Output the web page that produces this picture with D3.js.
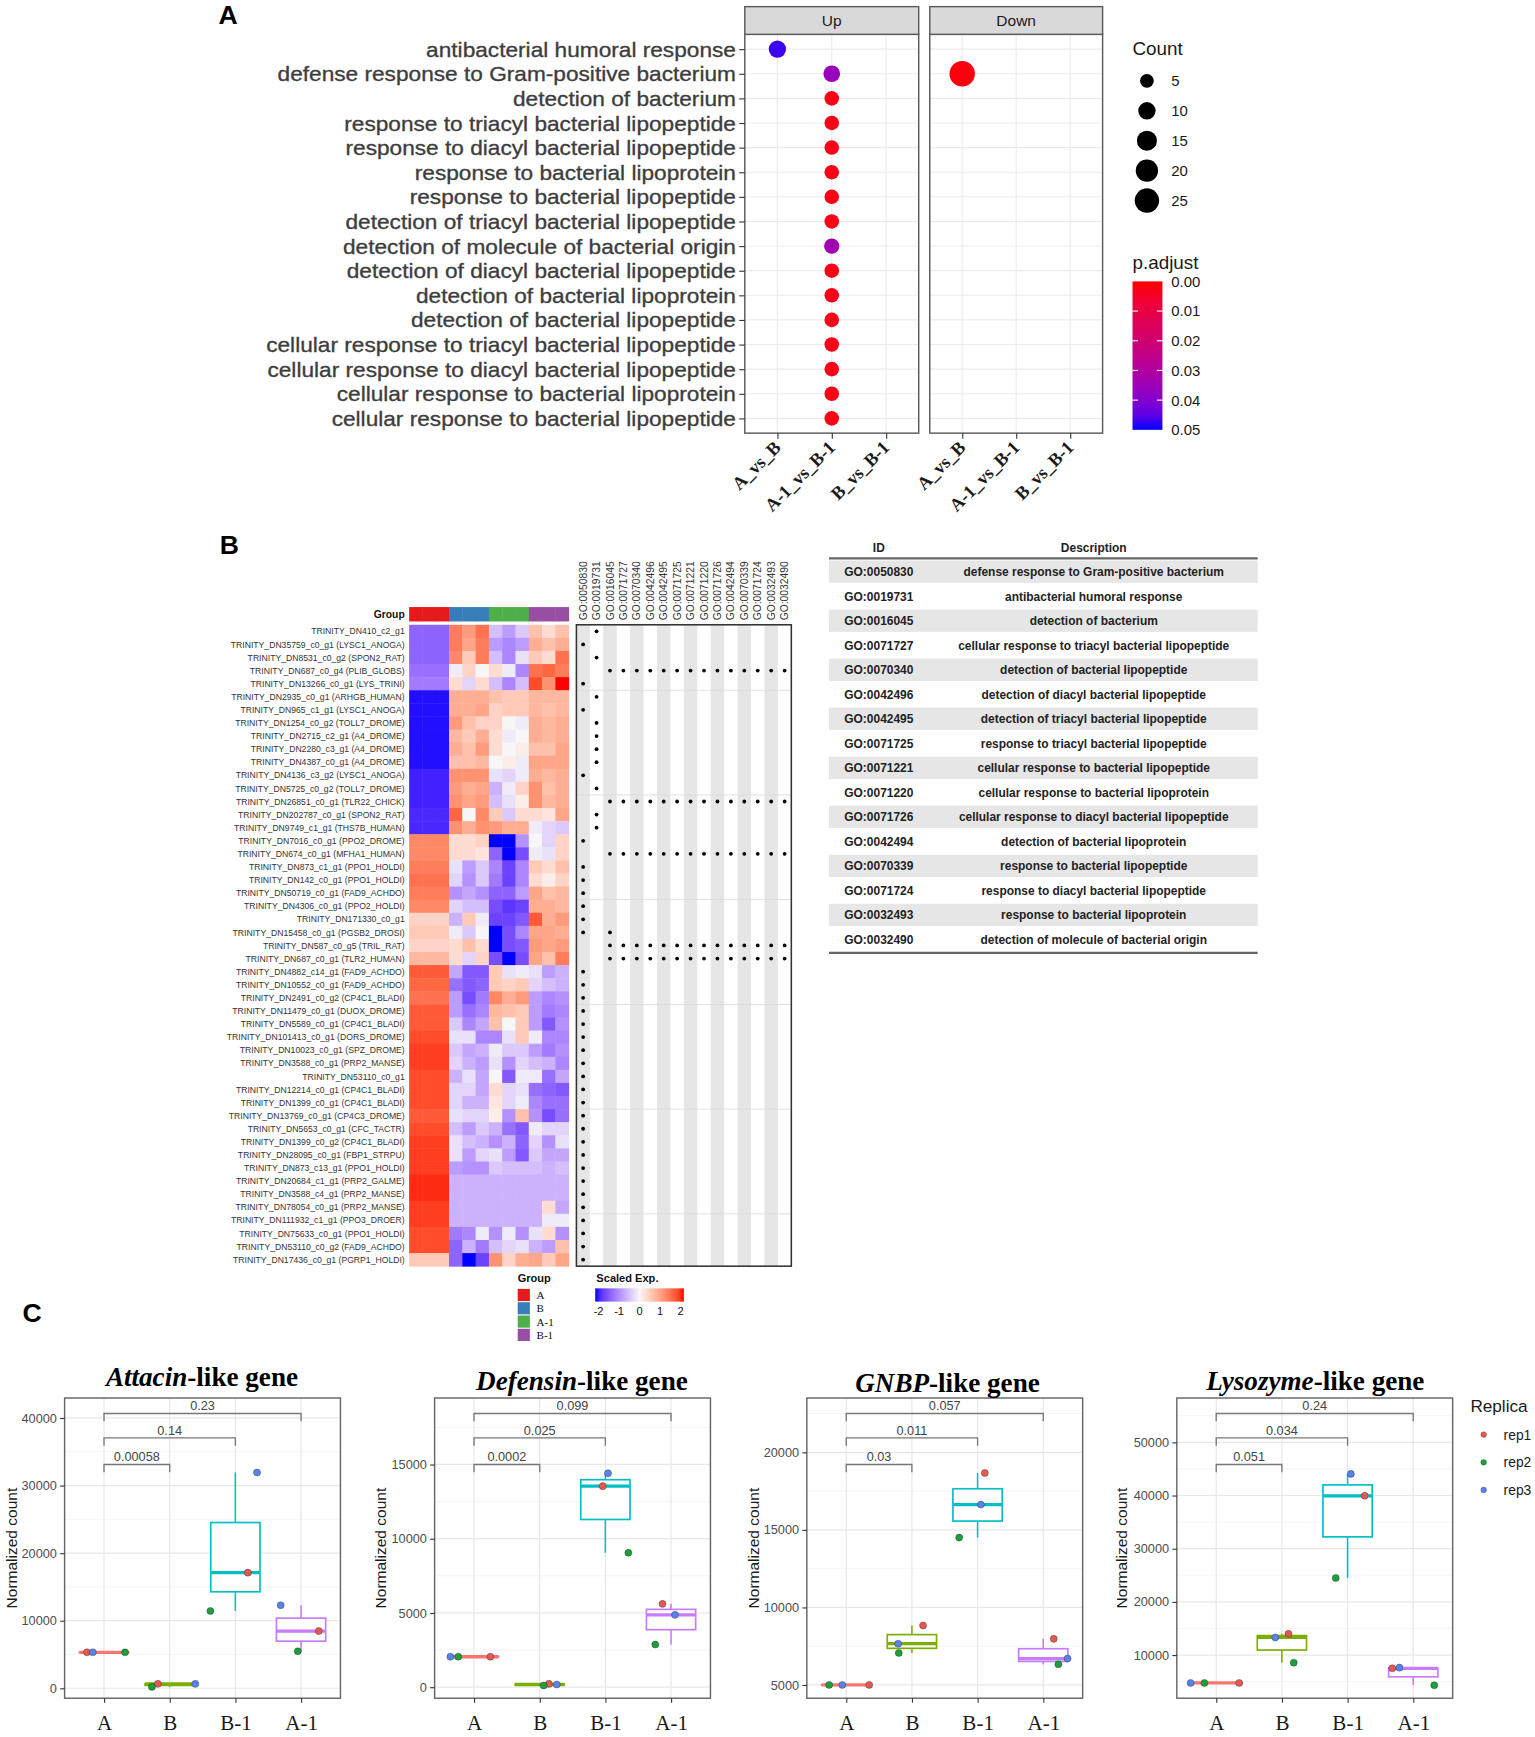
<!DOCTYPE html>
<html><head><meta charset="utf-8">
<script src="https://cdn.jsdelivr.net/npm/d3@7"></script>
<style>body{margin:0;background:#fff}svg{display:block}</style>
</head><body><svg id="fig"></svg>
<script>
// ================= DATA =================
// ---- Panel A: GO enrichment dot plot ----
const goTerms = [
 "antibacterial humoral response",
 "defense response to Gram-positive bacterium",
 "detection of bacterium",
 "response to triacyl bacterial lipopeptide",
 "response to diacyl bacterial lipopeptide",
 "response to bacterial lipoprotein",
 "response to bacterial lipopeptide",
 "detection of triacyl bacterial lipopeptide",
 "detection of molecule of bacterial origin",
 "detection of diacyl bacterial lipopeptide",
 "detection of bacterial lipoprotein",
 "detection of bacterial lipopeptide",
 "cellular response to triacyl bacterial lipopeptide",
 "cellular response to diacyl bacterial lipopeptide",
 "cellular response to bacterial lipoprotein",
 "cellular response to bacterial lipopeptide"];
const comparisons = ["A_vs_B","A-1_vs_B-1","B_vs_B-1"];
const facets = ["Up","Down"];
const enrichTerm = goTerms.concat(["defense response to Gram-positive bacterium"]);
const enrichFacet = ["Up","Up","Up","Up","Up","Up","Up","Up","Up","Up","Up","Up","Up","Up","Up","Up","Down"];
const enrichComp = ["A_vs_B","A-1_vs_B-1","A-1_vs_B-1","A-1_vs_B-1","A-1_vs_B-1","A-1_vs_B-1","A-1_vs_B-1","A-1_vs_B-1",
  "A-1_vs_B-1","A-1_vs_B-1","A-1_vs_B-1","A-1_vs_B-1","A-1_vs_B-1","A-1_vs_B-1","A-1_vs_B-1","A-1_vs_B-1","A_vs_B"];
const enrichCount = [10,9,6,6,6,6,6,6,7,6,6,6,6,6,6,6,28];
const enrichPadj = [0.048,0.036,0.002,0.002,0.002,0.002,0.002,0.002,0.034,0.002,0.002,0.002,0.002,0.002,0.002,0.002,0.001];
const countBreaks = [5,10,15,20,25];
const padjBreaks = [0,0.01,0.02,0.03,0.04,0.05];

// ---- Panel B: heatmap ----
const geneLabels = [
 "TRINITY_DN410_c2_g1","TRINITY_DN35759_c0_g1 (LYSC1_ANOGA)","TRINITY_DN8531_c0_g2 (SPON2_RAT)",
 "TRINITY_DN687_c0_g4 (PLIB_GLOBS)","TRINITY_DN13266_c0_g1 (LYS_TRINI)","TRINITY_DN2935_c0_g1 (ARHGB_HUMAN)",
 "TRINITY_DN965_c1_g1 (LYSC1_ANOGA)","TRINITY_DN1254_c0_g2 (TOLL7_DROME)","TRINITY_DN2715_c2_g1 (A4_DROME)",
 "TRINITY_DN2280_c3_g1 (A4_DROME)","TRINITY_DN4387_c0_g1 (A4_DROME)","TRINITY_DN4136_c3_g2 (LYSC1_ANOGA)",
 "TRINITY_DN5725_c0_g2 (TOLL7_DROME)","TRINITY_DN26851_c0_g1 (TLR22_CHICK)","TRINITY_DN202787_c0_g1 (SPON2_RAT)",
 "TRINITY_DN9749_c1_g1 (THS7B_HUMAN)","TRINITY_DN7016_c0_g1 (PPO2_DROME)","TRINITY_DN674_c0_g1 (MFHA1_HUMAN)",
 "TRINITY_DN873_c1_g1 (PPO1_HOLDI)","TRINITY_DN142_c0_g1 (PPO1_HOLDI)","TRINITY_DN50719_c0_g1 (FAD9_ACHDO)",
 "TRINITY_DN4306_c0_g1 (PPO2_HOLDI)","TRINITY_DN171330_c0_g1","TRINITY_DN15458_c0_g1 (PGSB2_DROSI)",
 "TRINITY_DN587_c0_g5 (TRIL_RAT)","TRINITY_DN687_c0_g1 (TLR2_HUMAN)","TRINITY_DN4882_c14_g1 (FAD9_ACHDO)",
 "TRINITY_DN10552_c0_g1 (FAD9_ACHDO)","TRINITY_DN2491_c0_g2 (CP4C1_BLADI)","TRINITY_DN11479_c0_g1 (DUOX_DROME)",
 "TRINITY_DN5589_c0_g1 (CP4C1_BLADI)","TRINITY_DN101413_c0_g1 (DORS_DROME)","TRINITY_DN10023_c0_g1 (SPZ_DROME)",
 "TRINITY_DN3588_c0_g1 (PRP2_MANSE)","TRINITY_DN53110_c0_g1","TRINITY_DN12214_c0_g1 (CP4C1_BLADI)",
 "TRINITY_DN1399_c0_g1 (CP4C1_BLADI)","TRINITY_DN13769_c0_g1 (CP4C3_DROME)","TRINITY_DN5653_c0_g1 (CFC_TACTR)",
 "TRINITY_DN1399_c0_g2 (CP4C1_BLADI)","TRINITY_DN28095_c0_g1 (FBP1_STRPU)","TRINITY_DN873_c13_g1 (PPO1_HOLDI)",
 "TRINITY_DN20684_c1_g1 (PRP2_GALME)","TRINITY_DN3588_c4_g1 (PRP2_MANSE)","TRINITY_DN78054_c0_g1 (PRP2_MANSE)",
 "TRINITY_DN111932_c1_g1 (PPO3_DROER)","TRINITY_DN75633_c0_g1 (PPO1_HOLDI)","TRINITY_DN53110_c0_g2 (FAD9_ACHDO)",
 "TRINITY_DN17436_c0_g1 (PGRP1_HOLDI)"];
const groupNames = ["A","B","A-1","B-1"];
const sampleGroups = ["A","A","A","B","B","B","A-1","A-1","A-1","B-1","B-1","B-1"];
const heatValues = [
 [-1.3,-1.3,-1.3, 1.3,1.0,1.4, -0.5,-0.8,-0.4, 0.6,0.3,0.6],
 [-1.3,-1.3,-1.3, 1.3,0.9,1.3, -0.8,-1.0,-0.8, 0.8,0.6,0.8],
 [-1.3,-1.3,-1.3, 1.2,0.5,1.3, -0.5,-1.0,-0.2, 0.5,0.3,1.4],
 [-1.2,-1.2,-1.2, -0.1,0.4,0.0, 0.3,-0.1,-1.0, 1.4,1.5,1.3],
 [-1.1,-1.1,-1.1, 0.3,-0.3,0.3, -0.5,-1.0,-0.5, 1.7,1.1,2.0],
 [-1.95,-1.95,-1.95, 0.8,0.8,0.8, 0.6,0.5,0.5, 0.7,0.7,0.7],
 [-1.95,-1.95,-1.95, 0.8,0.8,0.9, 0.4,0.5,0.5, 0.7,0.6,0.7],
 [-1.95,-1.95,-1.95, 1.0,0.6,0.4, 0.4,0.0,-0.1, 0.8,0.7,0.8],
 [-1.95,-1.95,-1.95, 0.7,0.5,0.8, 0.3,-0.1,0.0, 0.8,0.7,0.8],
 [-1.95,-1.95,-1.95, 0.8,0.6,1.0, 0.3,0.0,0.1, 0.6,0.6,0.9],
 [-1.95,-1.95,-1.95, 0.6,0.6,0.7, 0.0,0.1,-0.1, 0.9,0.9,0.9],
 [-1.85,-1.85,-1.85, 1.1,1.1,1.1, -0.2,-0.3,-0.1, 0.8,0.7,0.8],
 [-1.85,-1.85,-1.85, 1.0,0.8,0.9, -0.6,-0.1,0.4, 1.1,0.6,0.8],
 [-1.85,-1.85,-1.85, 1.1,0.9,1.0, -0.5,-0.2,0.1, 1.1,0.7,0.8],
 [-1.8,-1.8,-1.8, 1.5,0.0,1.2, 0.5,-0.4,0.3, 0.3,0.2,0.9],
 [-1.8,-1.8,-1.8, 1.1,0.8,1.1, 1.0,0.8,0.8, -0.1,-0.3,-0.4],
 [1.2,1.2,1.2, 0.3,0.3,0.4, -2.0,-2.0,-0.9, 0.0,-0.3,0.4],
 [1.2,1.2,1.2, 0.3,0.3,0.2, -1.3,-2.0,-1.5, -0.1,-0.2,0.4],
 [1.3,1.3,1.3, -0.2,-0.8,-0.4, -1.0,-1.6,-1.0, 0.5,0.3,0.6],
 [1.4,1.4,1.4, -0.3,-0.9,-0.4, -1.1,-1.6,-1.0, 0.3,0.1,0.4],
 [1.3,1.3,1.3, -0.9,-0.7,-0.9, -1.3,-1.3,-0.8, 0.9,0.6,0.7],
 [1.2,1.2,1.2, -0.3,-0.5,-0.5, -1.5,-1.7,-1.6, 0.8,0.8,0.7],
 [0.4,0.4,0.4, -0.6,0.5,-0.1, -1.6,-1.6,-1.4, 1.6,0.8,1.0],
 [0.5,0.5,0.5, -0.1,-0.4,0.0, -2.0,-1.5,-1.0, 0.9,0.9,0.8],
 [0.4,0.4,0.4, 0.3,0.6,0.3, -2.0,-1.5,-1.4, 1.0,0.9,1.0],
 [0.7,0.7,0.7, 0.3,-0.3,0.4, -1.5,-2.0,-1.5, 0.9,0.6,1.3],
 [1.6,1.6,1.6, -0.7,-1.4,-1.4, 0.5,-0.2,-0.1, -0.2,-0.8,-0.6],
 [1.5,1.5,1.5, -1.2,-1.4,-1.3, 0.5,0.4,0.5, -0.3,-0.5,-0.6],
 [1.4,1.4,1.4, -0.8,-1.5,-1.1, 1.2,0.8,1.0, -0.8,-1.0,-0.9],
 [1.6,1.6,1.6, -0.8,-1.2,-1.0, 0.7,0.6,0.5, -0.8,-1.1,-1.0],
 [1.6,1.6,1.6, -0.4,-1.0,-0.7, 0.6,0.0,0.5, -0.8,-1.4,-0.9],
 [1.7,1.7,1.7, -0.2,-0.2,-1.0, -1.0,-0.2,0.5, -0.1,-1.0,-1.0],
 [1.8,1.8,1.8, -0.4,-0.7,-0.6, -0.1,-0.4,-0.4, -0.8,-1.1,-0.9],
 [1.8,1.8,1.8, -0.3,-0.6,-0.8, -0.2,-0.9,-0.3, -0.5,-0.6,-1.0],
 [1.7,1.7,1.7, -0.6,-0.2,-0.7, 0.0,-1.4,-0.1, -0.1,-1.2,-0.7],
 [1.7,1.7,1.7, -0.3,-0.3,-0.7, 0.3,-0.3,-0.2, -1.2,-1.3,-1.4],
 [1.7,1.7,1.7, -0.3,-0.6,-0.6, 0.2,-0.3,-0.1, -1.0,-1.2,-1.2],
 [1.6,1.6,1.6, -0.2,-0.3,-0.3, 0.1,-0.9,0.6, -0.9,-1.5,-1.2],
 [1.7,1.7,1.7, -0.5,-0.8,-0.4, -0.6,-1.2,-1.4, -0.1,-0.3,-0.3],
 [1.8,1.8,1.8, -0.2,-0.5,-0.6, -0.9,-0.6,-1.3, -0.3,-0.9,-0.2],
 [1.8,1.8,1.8, -0.2,-0.8,-0.3, -0.2,-0.8,-1.4, -0.4,-0.7,-0.7],
 [1.8,1.8,1.8, -0.8,-0.9,-0.9, -0.4,-0.5,-0.5, -0.5,-0.6,-0.5],
 [1.9,1.9,1.9, -0.6,-0.6,-0.6, -0.6,-0.6,-0.6, -0.6,-0.6,-0.6],
 [1.9,1.9,1.9, -0.6,-0.6,-0.6, -0.6,-0.6,-0.6, -0.6,-0.6,-0.6],
 [1.8,1.8,1.8, -0.6,-0.6,-0.6, -0.6,-0.6,-0.6, -0.6,0.3,-0.7],
 [1.8,1.8,1.8, -0.6,-0.6,-0.6, -0.6,-0.6,-0.6, -0.6,-0.1,-0.1],
 [1.7,1.7,1.7, -1.1,-1.0,-0.1, -0.9,-0.1,-0.9, -0.2,0.3,-0.9],
 [1.7,1.7,1.7, -1.3,-0.6,-1.1, -0.5,-0.3,-0.2, -0.6,-0.8,0.6],
 [0.5,0.5,0.5, -1.3,-2.0,-1.6, 1.1,0.4,0.8, 0.9,0.5,0.9]];
const goIds = ["GO:0050830","GO:0019731","GO:0016045","GO:0071727","GO:0070340","GO:0042496","GO:0042495","GO:0071725",
  "GO:0071221","GO:0071220","GO:0071726","GO:0042494","GO:0070339","GO:0071724","GO:0032493","GO:0032490"];
const goDescriptions = ["defense response to Gram-positive bacterium","antibacterial humoral response","detection of bacterium",
  "cellular response to triacyl bacterial lipopeptide","detection of bacterial lipopeptide","detection of diacyl bacterial lipopeptide",
  "detection of triacyl bacterial lipopeptide","response to triacyl bacterial lipopeptide","cellular response to bacterial lipopeptide",
  "cellular response to bacterial lipoprotein","cellular response to diacyl bacterial lipopeptide","detection of bacterial lipoprotein",
  "response to bacterial lipopeptide","response to diacyl bacterial lipopeptide","response to bacterial lipoprotein",
  "detection of molecule of bacterial origin"];
const ALLTLR = [2,3,4,5,6,7,8,9,10,11,12,13,14,15];
const geneGoHits = [[1],[0],[1],ALLTLR,[0],[1],[0],[1],[1],[1],[1],[0],[1],ALLTLR,[1],[1],
  [0],ALLTLR,[0],[0],[0],[0],[0],[0,2],ALLTLR,ALLTLR,
  [0],[0],[0],[0],[0],[0],[0],[0],[0],[0],[0],[0],[0],[0],[0],[0],[0],[0],[0],[0],[0],[0],[0]];
const heatTicks = [-2,-1,0,1,2];

// ---- Panel C: boxplots ----
const geneNames = ["Attacin","Defensin","GNBP","Lysozyme"];
const groupOrder = ["A","B","B-1","A-1"];
const replicas = ["rep1","rep2","rep3"];
// values per group (groupOrder) per replica (rep1, rep2, rep3)
const attacinCounts  = [[5320,5320,5320],[650,200,650],[17110,11440,31940],[8460,5470,12290]];
const defensinCounts = [[2050,2050,2050],[220,110,180],[13540,9050,14410],[5610,2870,4870]];
const gnbpCounts     = [[5000,5000,5000],[8830,7060,7660],[18670,14500,16630],[7970,6330,6700]];
const lysozymeCounts = [[4750,4750,4750],[14000,8560,13310],[39940,24500,44060],[7500,4310,7625]];
// horizontal jitter (fraction of category step)
const attacinJitter  = [[-0.26,0.32,-0.17],[-0.18,-0.27,0.39],[0.19,-0.38,0.33],[0.27,-0.05,-0.31]];
const defensinJitter = [[0.25,-0.24,-0.36],[0.14,0.06,0.26],[-0.04,0.35,0.04],[-0.13,-0.24,0.06]];
const gnbpJitter     = [[0.35,-0.26,-0.06],[0.17,-0.20,-0.21],[0.11,-0.28,0.05],[0.16,0.23,0.37]];
const lysozymeJitter = [[0.35,-0.18,-0.39],[0.10,0.18,-0.10],[0.26,-0.18,0.05],[-0.32,0.32,-0.21]];
const attacinP  = ["0.00058","0.14","0.23"];
const defensinP = ["0.0002","0.025","0.099"];
const gnbpP     = ["0.03","0.011","0.057"];
const lysozymeP = ["0.051","0.034","0.24"];
const pairs = [["A","B"],["A","B-1"],["A","A-1"]];
const attacinTicks  = [0,10000,20000,30000,40000];
const defensinTicks = [0,5000,10000,15000];
const gnbpTicks     = [5000,10000,15000,20000];
const lysozymeTicks = [10000,20000,30000,40000,50000];
const attacinLimits  = [-1475,42950];
const defensinLimits = [-746,19477];
const gnbpLimits     = [4143,23500];
const lysozymeLimits = [1875,58333];

// ================= DRAWING =================
const W = 1385, H = 1568;
const SANS = "'Liberation Sans', Arial, Helvetica, sans-serif";
const SERIF = "'Liberation Serif', 'Times New Roman', serif";
const svg = d3.select("#fig").attr("width",1535).attr("height",1737).attr("viewBox",`0 0 ${W} ${H}`)
  .style("font-family",SANS);
svg.append("rect").attr("width",W).attr("height",H).attr("fill","#fff");

// panel letters
[["A",197,22],["B",198,500],["C",20,1193]].forEach(([t,x,y])=>
  svg.append("text").attr("x",x).attr("y",y).text(t).attr("font-size",24).attr("font-weight","bold").attr("fill","#000"));

// ---------- Panel A ----------
(function(){
  const pTop = 31, pBot = 391, stripTop = 6;
  const panelX = {Up:[672,829], Down:[839,995]};
  const y = d3.scalePoint().domain(goTerms).range([pTop,pBot]).padding(0.6);
  const padjColor = d3.scaleLinear().domain([0,0.05]).range(["#ff0000","#0000ff"]).interpolate(d3.interpolateLab).clamp(true);
  const rScale = c => 2.32 + 1.737*Math.sqrt(c);
  const g = svg.append("g");
  facets.forEach(f=>{
    const [x0,x1] = panelX[f];
    const x = d3.scalePoint().domain(comparisons).range([x0,x1]).padding(0.6);
    g.append("g").selectAll("line.h").data(goTerms).join("line")
      .attr("x1",x0).attr("x2",x1).attr("y1",d=>y(d)).attr("y2",d=>y(d)).attr("stroke","#ebebeb").attr("stroke-width",1);
    g.append("g").selectAll("line.v").data(comparisons).join("line")
      .attr("x1",d=>x(d)).attr("x2",d=>x(d)).attr("y1",pTop).attr("y2",pBot).attr("stroke","#ebebeb").attr("stroke-width",1);
    const idx = d3.range(enrichTerm.length).filter(i=>enrichFacet[i]===f);
    g.append("g").selectAll("circle").data(idx).join("circle")
      .attr("cx",i=>x(enrichComp[i])).attr("cy",i=>y(enrichTerm[i])).attr("r",i=>rScale(enrichCount[i]))
      .attr("fill",i=>padjColor(enrichPadj[i]));
    g.append("rect").attr("x",x0).attr("y",pTop).attr("width",x1-x0).attr("height",pBot-pTop)
      .attr("fill","none").attr("stroke","#5a5a5a").attr("stroke-width",1.3);
    g.append("rect").attr("x",x0).attr("y",stripTop).attr("width",x1-x0).attr("height",pTop-stripTop)
      .attr("fill","#d9d9d9").attr("stroke","#5a5a5a").attr("stroke-width",1.3);
    g.append("text").attr("x",(x0+x1)/2).attr("y",(stripTop+pTop)/2+5).attr("text-anchor","middle")
      .attr("font-size",14).attr("fill","#1a1a1a").text(f);
    const ax = g.append("g").attr("transform",`translate(0,${pBot})`).call(d3.axisBottom(x).tickSize(5).tickFormat(""));
    ax.select(".domain").remove();
    ax.selectAll("line").attr("stroke","#333");
    g.append("g").selectAll("text").data(comparisons).join("text")
      .attr("transform",d=>`translate(${x(d)+4},${pBot+14}) rotate(-45)`)
      .attr("text-anchor","end").attr("font-family",SERIF).attr("font-weight","bold").attr("font-size",16.5)
      .attr("fill","#1a1a1a").text(d=>d);
  });
  const ay = g.append("g").attr("transform",`translate(672,0)`).call(d3.axisLeft(y).tickSize(5).tickFormat(""));
  ay.select(".domain").remove(); ay.selectAll("line").attr("stroke","#333");
  const lab = g.append("g").attr("transform","translate(664,0)");
  const ts = lab.selectAll("text").data(goTerms).join("text").attr("x",0).attr("y",d=>y(d)).attr("dy","0.36em")
    .attr("text-anchor","end").attr("font-size",19).attr("fill","#3d3d3d")
    .attr("stroke","#3d3d3d").attr("stroke-width",0.3).text(d=>d);
  let ref = 1; ts.each(function(d){ if(d==="cellular response to triacyl bacterial lipopeptide") ref = this.getComputedTextLength(); });
  lab.attr("transform",`translate(664,0) scale(${424/ref},1)`);
  // Count legend
  g.append("text").attr("x",1022).attr("y",50).attr("font-size",17).attr("fill","#1a1a1a").text("Count");
  const ly = d3.scalePoint().domain(countBreaks).range([73,181]);
  g.append("g").selectAll("circle").data(countBreaks).join("circle")
    .attr("cx",1035).attr("cy",d=>ly(d)).attr("r",d=>rScale(d)).attr("fill","#000");
  g.append("g").selectAll("text").data(countBreaks).join("text")
    .attr("x",1057).attr("y",d=>ly(d)).attr("dy","0.36em").attr("font-size",13.5).attr("fill","#1a1a1a").text(d=>d);
  // p.adjust legend
  g.append("text").attr("x",1022).attr("y",243).attr("font-size",17).attr("fill","#1a1a1a").text("p.adjust");
  const defs = svg.append("defs");
  const grad = defs.append("linearGradient").attr("id","padjGrad").attr("x1",0).attr("x2",0).attr("y1",0).attr("y2",1);
  d3.range(0,1.001,0.1).forEach(t=>grad.append("stop").attr("offset",t).attr("stop-color",padjColor(t*0.05)));
  const cbTop = 254, cbBot = 388;
  g.append("rect").attr("x",1022).attr("y",cbTop).attr("width",27).attr("height",cbBot-cbTop).attr("fill","url(#padjGrad)");
  const cy = d3.scaleLinear().domain([0,0.05]).range([cbTop,cbBot]);
  g.append("g").selectAll("line").data(padjBreaks.slice(1,-1)).join("line")
    .attr("x1",1022).attr("x2",1027).attr("y1",d=>cy(d)).attr("y2",d=>cy(d)).attr("stroke","#fff").attr("stroke-width",1);
  g.append("g").selectAll("line.r").data(padjBreaks.slice(1,-1)).join("line")
    .attr("x1",1044).attr("x2",1049).attr("y1",d=>cy(d)).attr("y2",d=>cy(d)).attr("stroke","#fff").attr("stroke-width",1);
  g.append("g").selectAll("text").data(padjBreaks).join("text")
    .attr("x",1057).attr("y",d=>cy(d)).attr("dy","0.36em").attr("font-size",13.5).attr("fill","#1a1a1a").text(d=>d.toFixed(2));
})();

// ---------- Panel B ----------
(function(){
  const hx0 = 369, hx1 = 513, rTop = 564, rBot = 1143;
  const g = svg.append("g");
  const xs = d3.scaleBand().domain(d3.range(sampleGroups.length)).range([hx0,hx1]);
  const ys = d3.scaleBand().domain(d3.range(geneLabels.length)).range([rTop,rBot]);
  const grpColor = d3.scaleOrdinal().domain(groupNames).range(["#e41a1c","#377eb8","#4daf4a","#984ea3"]);
  const heatColor = d3.scaleLinear().domain([-2,0,2]).range(["#0000ff","#f7f7f7","#ff0000"]).interpolate(d3.interpolateLab).clamp(true);
  g.append("g").selectAll("rect").data(sampleGroups).join("rect")
    .attr("x",(d,i)=>xs(i)).attr("y",548).attr("width",xs.bandwidth()+0.4).attr("height",13).attr("fill",d=>grpColor(d));
  g.append("text").attr("x",365).attr("y",558).attr("text-anchor","end").attr("font-size",9.3).attr("font-weight","bold")
    .attr("fill","#111").text("Group");
  const cells = [];
  heatValues.forEach((row,r)=>row.forEach((v,c)=>cells.push({r,c,v})));
  g.append("g").selectAll("rect").data(cells).join("rect")
    .attr("x",d=>xs(d.c)).attr("y",d=>ys(d.r)).attr("width",xs.bandwidth()+0.4).attr("height",ys.bandwidth()+0.4)
    .attr("fill",d=>heatColor(d.v));
  g.append("g").selectAll("text").data(geneLabels).join("text")
    .attr("x",365).attr("y",(d,i)=>ys(i)+ys.bandwidth()/2).attr("dy","0.36em").attr("text-anchor","end")
    .attr("font-size",7.8).attr("fill","#333").text(d=>d);
  const gx0 = 520, gx1 = 714;
  const gs = d3.scaleBand().domain(d3.range(goIds.length)).range([gx0,gx1]);
  g.append("g").selectAll("rect").data(goIds.filter((d,i)=>i%2===0)).join("rect")
    .attr("x",d=>gs(goIds.indexOf(d))).attr("y",rTop).attr("width",gs.bandwidth()).attr("height",rBot-rTop).attr("fill","#e6e6e6");
  g.append("g").selectAll("line").data([5,13,21,29,37,45]).join("line")
    .attr("x1",gx0).attr("x2",gx1).attr("y1",d=>ys(d)).attr("y2",d=>ys(d)).attr("stroke","#d8d8d8").attr("stroke-width",0.7);
  const hits = [];
  geneGoHits.forEach((arr,r)=>arr.forEach(c=>hits.push({r,c})));
  g.append("g").selectAll("circle").data(hits).join("circle")
    .attr("cx",d=>gs(d.c)+gs.bandwidth()/2).attr("cy",d=>ys(d.r)+ys.bandwidth()/2).attr("r",1.7).attr("fill","#000");
  g.append("rect").attr("x",gx0).attr("y",rTop).attr("width",gx1-gx0).attr("height",rBot-rTop)
    .attr("fill","none").attr("stroke","#333").attr("stroke-width",1.4);
  g.append("g").selectAll("text").data(goIds).join("text")
    .attr("transform",(d,i)=>`translate(${gs(i)+gs.bandwidth()/2},560) rotate(-90)`).attr("dy","0.35em")
    .attr("font-size",9.3).attr("fill","#333").text(d=>d);
  g.append("text").attr("x",467).attr("y",1157).attr("font-size",10).attr("font-weight","bold").attr("fill","#111").text("Group");
  const lg = d3.scaleBand().domain(groupNames).range([1163,1211]);
  g.append("g").selectAll("rect").data(groupNames).join("rect")
    .attr("x",467).attr("y",d=>lg(d)+0.5).attr("width",11).attr("height",lg.bandwidth()-1).attr("fill",d=>grpColor(d));
  g.append("g").selectAll("text").data(groupNames).join("text")
    .attr("x",484).attr("y",d=>lg(d)+lg.bandwidth()/2).attr("dy","0.36em").attr("font-family",SERIF)
    .attr("font-size",10).attr("fill","#111").text(d=>d);
  g.append("text").attr("x",538).attr("y",1157).attr("font-size",10).attr("font-weight","bold").attr("fill","#111").text("Scaled Exp.");
  const defs = svg.append("defs");
  const hg = defs.append("linearGradient").attr("id","heatGrad");
  d3.range(0,1.001,0.05).forEach(t=>hg.append("stop").attr("offset",t).attr("stop-color",heatColor(-2+4*t)));
  const hxs = d3.scaleLinear().domain([-2,2]).range([540,614]);
  g.append("rect").attr("x",537).attr("y",1163).attr("width",80).attr("height",12).attr("fill","url(#heatGrad)");
  g.append("g").selectAll("text").data(heatTicks).join("text")
    .attr("x",d=>hxs(d)).attr("y",1187).attr("text-anchor","middle").attr("font-size",10).attr("fill","#111").text(d=>d);
  // table
  const tx0 = 748, tx1 = 1135, tTop = 505, rowH = 22.13;
  g.append("text").attr("x",793).attr("y",498).attr("text-anchor","middle").attr("font-size",10.8).attr("font-weight","bold").attr("fill","#222").text("ID");
  g.append("text").attr("x",987).attr("y",498).attr("text-anchor","middle").attr("font-size",10.8).attr("font-weight","bold").attr("fill","#222").text("Description");
  const ty = d3.scaleBand().domain(d3.range(goIds.length)).range([tTop,tTop+rowH*goIds.length]);
  g.append("g").selectAll("rect").data(d3.range(goIds.length).filter(i=>i%2===0)).join("rect")
    .attr("x",tx0).attr("y",i=>ty(i)+1).attr("width",tx1-tx0).attr("height",ty.bandwidth()-2).attr("fill","#e6e6e6");
  g.append("g").selectAll("text").data(goIds).join("text")
    .attr("x",793).attr("y",(d,i)=>ty(i)+ty.bandwidth()/2).attr("dy","0.36em").attr("text-anchor","middle")
    .attr("font-size",10.8).attr("font-weight","bold").attr("fill","#222").text(d=>d);
  g.append("g").selectAll("text").data(goDescriptions).join("text")
    .attr("x",987).attr("y",(d,i)=>ty(i)+ty.bandwidth()/2).attr("dy","0.36em").attr("text-anchor","middle")
    .attr("font-size",10.8).attr("font-weight","bold").attr("fill","#222").text(d=>d);
  g.append("line").attr("x1",tx0).attr("x2",tx1).attr("y1",tTop-1).attr("y2",tTop-1).attr("stroke","#666").attr("stroke-width",2);
  g.append("line").attr("x1",tx0).attr("x2",tx1).attr("y1",tTop+rowH*goIds.length+1).attr("y2",tTop+rowH*goIds.length+1)
    .attr("stroke","#666").attr("stroke-width",2);
})();

// ---------- Panel C ----------
(function(){
  const countsAll = [attacinCounts,defensinCounts,gnbpCounts,lysozymeCounts];
  const jitterAll = [attacinJitter,defensinJitter,gnbpJitter,lysozymeJitter];
  const pAll = [attacinP,defensinP,gnbpP,lysozymeP];
  const ticksAll = [attacinTicks,defensinTicks,gnbpTicks,lysozymeTicks];
  const limitsAll = [attacinLimits,defensinLimits,gnbpLimits,lysozymeLimits];
  const boxColor = d3.scaleOrdinal().domain(groupOrder).range(["#F8766D","#7CAE00","#00BFC4","#C77CFF"]);
  const repFill = d3.scaleOrdinal().domain(replicas).range(["#E05A55","#1E9E3C","#5B82E6"]);
  const panelX = [58,392,728,1062], pw = 249, pTop = 1262, pBot = 1533;
  const titleX = [182,525,855,1187], titleY = [1251,1255,1257,1255];
  const ylabX = [10,343,680,1012];
  const bracketOff = [60,36,14];
  geneNames.forEach((gene,gi)=>{
    const g = svg.append("g");
    const x0 = panelX[gi], x1 = x0+pw;
    const x = d3.scalePoint().domain(groupOrder).range([x0,x1]).padding(0.6);
    const y = d3.scaleLinear().domain(limitsAll[gi]).range([pBot,pTop]);
    const ticks = ticksAll[gi], step = ticks[1]-ticks[0];
    const minor = d3.range(ticks[0]-step/2, limitsAll[gi][1], step).filter(v=>v>limitsAll[gi][0]);
    g.append("g").selectAll("line").data(minor).join("line").attr("x1",x0).attr("x2",x1)
      .attr("y1",d=>y(d)).attr("y2",d=>y(d)).attr("stroke","#f4f4f4").attr("stroke-width",0.8);
    g.append("g").selectAll("line").data(ticks).join("line").attr("x1",x0).attr("x2",x1)
      .attr("y1",d=>y(d)).attr("y2",d=>y(d)).attr("stroke","#e8e8e8").attr("stroke-width",1.1);
    g.append("g").selectAll("line").data(groupOrder).join("line").attr("x1",d=>x(d)).attr("x2",d=>x(d))
      .attr("y1",pTop).attr("y2",pBot).attr("stroke","#e8e8e8").attr("stroke-width",1.1);
    const bw = 0.75*x.step();
    groupOrder.forEach((grp,k)=>{
      const vals = countsAll[gi][k].slice().sort(d3.ascending);
      const q1 = d3.quantile(vals,0.25), med = d3.quantile(vals,0.5), q3 = d3.quantile(vals,0.75);
      const lo = d3.min(vals), hi = d3.max(vals);
      const cx = x(grp), col = boxColor(grp);
      g.append("line").attr("x1",cx).attr("x2",cx).attr("y1",y(hi)).attr("y2",y(q3)).attr("stroke",col).attr("stroke-width",1.4);
      g.append("line").attr("x1",cx).attr("x2",cx).attr("y1",y(q1)).attr("y2",y(lo)).attr("stroke",col).attr("stroke-width",1.4);
      g.append("rect").attr("x",cx-bw/2).attr("y",y(q3)).attr("width",bw).attr("height",Math.max(0.01,y(q1)-y(q3)))
        .attr("fill","#fff").attr("stroke",col).attr("stroke-width",1.5);
      g.append("line").attr("x1",cx-bw/2).attr("x2",cx+bw/2).attr("y1",y(med)).attr("y2",y(med)).attr("stroke",col).attr("stroke-width",3);
    });
    const pts = [];
    groupOrder.forEach((grp,k)=>replicas.forEach((rep,j)=>pts.push({grp,rep,v:countsAll[gi][k][j],jit:jitterAll[gi][k][j]})));
    g.append("g").selectAll("circle").data(pts).join("circle")
      .attr("cx",d=>x(d.grp)+d.jit*x.step()).attr("cy",d=>y(d.v)).attr("r",3.2)
      .attr("fill",d=>repFill(d.rep)).attr("stroke","rgba(0,0,0,0.35)").attr("stroke-width",0.7);
    pairs.forEach((pr,k)=>{
      const yb = pTop + bracketOff[k];
      const xa = x(pr[0]), xb = x(pr[1]);
      g.append("path").attr("d",`M${xa},${yb+7}V${yb}H${xb}V${yb+7}`).attr("fill","none").attr("stroke","#777").attr("stroke-width",1.2);
      g.append("text").attr("x",(xa+xb)/2).attr("y",yb-3).attr("text-anchor","middle").attr("font-size",11.5)
        .attr("fill","#444").text(pAll[gi][k]);
    });
    g.append("rect").attr("x",x0).attr("y",pTop).attr("width",pw).attr("height",pBot-pTop)
      .attr("fill","none").attr("stroke","#666").attr("stroke-width",1.3);
    const ay = g.append("g").attr("transform",`translate(${x0},0)`)
      .call(d3.axisLeft(y).tickValues(ticks).tickFormat(d3.format("d")).tickSize(4).tickPadding(3));
    ay.select(".domain").remove(); ay.selectAll("line").attr("stroke","#333");
    ay.selectAll("text").attr("font-family",SANS).attr("font-size",11.5).attr("fill","#4d4d4d");
    const ax = g.append("g").attr("transform",`translate(0,${pBot})`).call(d3.axisBottom(x).tickSize(4).tickPadding(11));
    ax.select(".domain").remove(); ax.selectAll("line").attr("stroke","#333");
    ax.selectAll("text").attr("font-family",SERIF).attr("font-size",19).attr("fill","#1a1a1a");
    g.append("text").attr("transform",`translate(${ylabX[gi]},${(pTop+pBot)/2}) rotate(-90)`).attr("text-anchor","middle")
      .attr("dy","0.35em").attr("font-size",14).attr("fill","#1a1a1a").text("Normalized count");
    const t = g.append("text").attr("x",titleX[gi]).attr("y",titleY[gi]).attr("text-anchor","middle")
      .attr("font-family",SERIF).attr("font-weight","bold").attr("font-size",24.5).attr("fill","#000");
    t.append("tspan").attr("font-style","italic").text(gene);
    t.append("tspan").text("-like gene");
  });
  const g = svg.append("g");
  g.append("text").attr("x",1327).attr("y",1275).attr("font-size",15.5).attr("fill","#1a1a1a").text("Replica");
  const ry = d3.scalePoint().domain(replicas).range([1295,1345]);
  g.append("g").selectAll("circle").data(replicas).join("circle").attr("cx",1339).attr("cy",d=>ry(d)).attr("r",2.6)
    .attr("fill",d=>repFill(d)).attr("stroke","rgba(0,0,0,0.3)").attr("stroke-width",0.6);
  g.append("g").selectAll("text").data(replicas).join("text").attr("x",1357).attr("y",d=>ry(d)).attr("dy","0.36em")
    .attr("font-size",12.5).attr("fill","#1a1a1a").text(d=>d);
})();
</script></body></html>
